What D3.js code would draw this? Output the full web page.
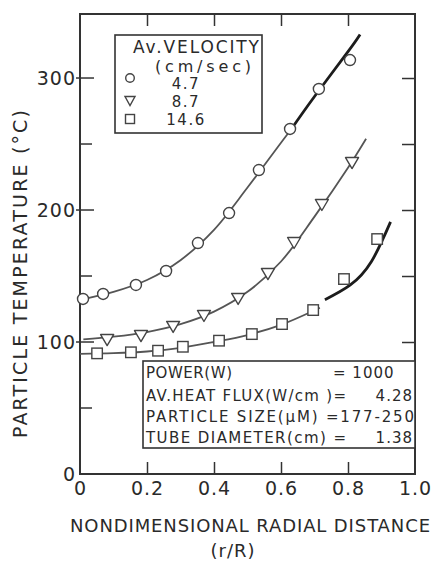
<!DOCTYPE html>
<html>
<head>
<meta charset="utf-8">
<script src="https://cdn.jsdelivr.net/npm/d3@7"></script>
<style>
body { margin: 0; background: #fff; }
text { font-family: "DejaVu Sans", sans-serif; fill: #2a2a2a; }
</style>
</head>
<body>
<div id="chart"></div>
<script>
// values
const xTicks = [0, 0.2, 0.4, 0.6, 0.8, 1.0];
const xTickLabels = ['0', '0.2', '0.4', '0.6', '0.8', '1.0'];
const yTicks = [0, 100, 200, 300];
const yMinorTicks = [50, 150, 250];
const velocities = ['4.7', '8.7', '14.6'];

// 4.7 cm/sec - circles
const circlePts = [[0.009, 132.6], [0.069, 136.4], [0.167, 143.2], [0.257, 153.8], [0.352, 175],
    [0.445, 197.7], [0.534, 230.3], [0.627, 261.4], [0.713, 291.7], [0.806, 313.6]];
const circleCurve = [[0, 132], [0.1, 138], [0.2, 147], [0.3, 162], [0.4, 185], [0.5, 217], [0.6, 251], [0.63, 261]];
const circleCurveBold = [[0.63, 261], [0.7, 286], [0.8, 320], [0.836, 333]];

// 8.7 cm/sec - triangles
const trianglePts = [[0.081, 101.5], [0.182, 104.5], [0.278, 111.4], [0.37, 119.7], [0.472, 132.6],
    [0.561, 151.5], [0.639, 175], [0.722, 203.8], [0.812, 235.6]];
const triangleCurve = [[0.01, 102], [0.1, 104], [0.2, 107.5], [0.3, 113.5], [0.4, 123], [0.5, 138],
    [0.6, 161], [0.7, 195], [0.8, 232], [0.854, 254]];

// 14.6 cm/sec - squares
const squarePts = [[0.051, 91.4], [0.152, 92.2], [0.233, 93.4], [0.307, 96.4], [0.415, 101],
    [0.513, 106], [0.603, 113.6], [0.696, 124.2], [0.788, 147.7], [0.887, 178]];
const squareCurve = [[0, 91], [0.1, 91.5], [0.2, 92.8], [0.3, 95.5], [0.4, 100], [0.5, 105.3],
    [0.6, 113], [0.7, 124], [0.716, 126]];
const squareCurveBold = [[0.731, 132], [0.806, 143], [0.87, 161], [0.927, 191]];

const infoLabels = ['POWER(W)', 'AV.HEAT FLUX(W/cm )=', 'PARTICLE  SIZE(\u03bcM) =177-250', 'TUBE DIAMETER(cm) ='];
const infoValues = ['= 1000', '4.28', '', '1.38'];

const width = 435, height = 566;
const svg = d3.select('#chart').append('svg')
    .attr('width', width)
    .attr('height', height);

const x = d3.scaleLinear().domain([0, 1]).range([80, 415]);
const y = d3.scaleLinear().domain([0, 348.5]).range([474, 14]);

const ink = '#333';

// frame
svg.append('rect')
    .attr('x', x(0)).attr('y', y(348.5))
    .attr('width', x(1) - x(0)).attr('height', y(0) - y(348.5))
    .attr('fill', 'none').attr('stroke', ink).attr('stroke-width', 2);

// bottom axis
const gx = svg.append('g')
    .attr('transform', `translate(0,${y(0)})`)
    .call(d3.axisBottom(x).tickValues(xTicks)
        .tickFormat((d, i) => xTickLabels[i])
        .tickSize(-12).tickPadding(8));
gx.select('.domain').remove();
gx.selectAll('.tick line').filter(d => d === 0 || d === 1)
    .remove();
gx.selectAll('.tick line').attr('stroke', ink).attr('stroke-width', 1.5);
gx.selectAll('text').attr('font-size', 19).attr('letter-spacing', 1)
    .attr('font-family', 'DejaVu Sans').attr('fill', '#2a2a2a');

// top ticks
const gxTop = svg.append('g')
    .attr('transform', `translate(0,${y(348.5)})`)
    .call(d3.axisTop(x).tickValues(xTicks.slice(1, 5)).tickFormat('').tickSize(-12));
gxTop.select('.domain').remove();
gxTop.selectAll('.tick line').attr('stroke', ink).attr('stroke-width', 1.5);

// right ticks
const gyRight = svg.append('g')
    .attr('transform', `translate(${x(1)},0)`)
    .call(d3.axisRight(y).tickValues([100, 150, 200, 250, 300]).tickFormat('').tickSize(-13));
gyRight.select('.domain').remove();
gyRight.selectAll('.tick line').attr('stroke', ink).attr('stroke-width', 1.5);

// left axis labels
const gy = svg.append('g')
    .attr('transform', `translate(${x(0)},0)`)
    .call(d3.axisLeft(y).tickValues(yTicks).tickSize(0).tickPadding(4));
gy.select('.domain').remove();
gy.selectAll('text').attr('font-size', 19).attr('letter-spacing', 1)
    .attr('font-family', 'DejaVu Sans').attr('fill', '#2a2a2a');

// left ticks cross the axis
svg.selectAll('line.ymajor')
    .data(yTicks.slice(1))
    .join('line')
    .attr('class', 'ymajor')
    .attr('x1', x(0) - 4).attr('x2', x(0) + 14)
    .attr('y1', d => y(d)).attr('y2', d => y(d))
    .attr('stroke', ink).attr('stroke-width', 1.5);
svg.selectAll('line.yminor')
    .data(yMinorTicks)
    .join('line')
    .attr('class', 'yminor')
    .attr('x1', x(0)).attr('x2', x(0) + 12)
    .attr('y1', d => y(d)).attr('y2', d => y(d))
    .attr('stroke', ink).attr('stroke-width', 1.5);

// fitted curves
const line = d3.line()
    .x(d => x(d[0]))
    .y(d => y(d[1]))
    .curve(d3.curveCatmullRom);
const smoothLine = d3.line()
    .x(d => x(d[0]))
    .y(d => y(d[1]))
    .curve(d3.curveNatural);

[circleCurve, triangleCurve, squareCurve].forEach(c => {
    svg.append('path').attr('d', line(c))
        .attr('fill', 'none').attr('stroke', '#555').attr('stroke-width', 1.8);
});
[circleCurveBold, squareCurveBold].forEach(c => {
    svg.append('path').attr('d', smoothLine(c))
        .attr('fill', 'none').attr('stroke', '#1c1c1c').attr('stroke-width', 2.8);
});

// markers
const mk = { fill: '#fff', stroke: '#444', width: 1.4 };

function drawCircles(g, pts, r) {
    g.selectAll(null).data(pts).join('circle')
        .attr('cx', d => x(d[0])).attr('cy', d => y(d[1])).attr('r', r)
        .attr('fill', mk.fill).attr('stroke', mk.stroke).attr('stroke-width', mk.width);
}
function trianglePath(cx, cy, w, h) {
    return `M${cx - w / 2},${cy - h / 2}L${cx + w / 2},${cy - h / 2}L${cx},${cy + h / 2}Z`;
}
function drawTriangles(g, pts, w, h) {
    g.selectAll(null).data(pts).join('path')
        .attr('d', d => trianglePath(x(d[0]), y(d[1]), w, h))
        .attr('fill', mk.fill).attr('stroke', mk.stroke).attr('stroke-width', mk.width)
        .attr('stroke-linejoin', 'round');
}
function drawSquares(g, pts, s) {
    g.selectAll(null).data(pts).join('rect')
        .attr('x', d => x(d[0]) - s / 2).attr('y', d => y(d[1]) - s / 2)
        .attr('width', s).attr('height', s)
        .attr('fill', mk.fill).attr('stroke', mk.stroke).attr('stroke-width', mk.width);
}

const marks = svg.append('g');
drawCircles(marks, circlePts, 5.5);
drawTriangles(marks, trianglePts, 13, 11);
drawSquares(marks, squarePts, 10.5);

// legend
svg.append('rect')
    .attr('x', 115).attr('y', 35).attr('width', 147).attr('height', 98)
    .attr('fill', '#fff').attr('stroke', ink).attr('stroke-width', 1.6);
svg.append('text').attr('x', 133).attr('y', 53)
    .attr('font-size', 17).attr('textLength', 126).attr('lengthAdjust', 'spacing')
    .text('Av.VELOCITY');
svg.append('text').attr('x', 155).attr('y', 72)
    .attr('font-size', 16).attr('textLength', 96).attr('lengthAdjust', 'spacing')
    .text('(cm/sec)');
svg.selectAll('text.vel').data(velocities).join('text')
    .attr('class', 'vel')
    .attr('x', 186).attr('y', (d, i) => [89, 107, 125][i])
    .attr('text-anchor', 'middle').attr('font-size', 15).attr('letter-spacing', 1.5)
    .text(d => d);
const legMarks = svg.append('g');
legMarks.append('circle').attr('cx', 130).attr('cy', 78).attr('r', 4.3)
    .attr('fill', '#fff').attr('stroke', mk.stroke).attr('stroke-width', 1.4);
legMarks.append('path').attr('d', trianglePath(130, 101, 10, 9))
    .attr('fill', '#fff').attr('stroke', mk.stroke).attr('stroke-width', 1.4);
legMarks.append('rect').attr('x', 125.5).attr('y', 114.5).attr('width', 9).attr('height', 9)
    .attr('fill', '#fff').attr('stroke', mk.stroke).attr('stroke-width', 1.4);

// info box
svg.append('rect')
    .attr('x', 143).attr('y', 361).attr('width', 415 - 143).attr('height', 87)
    .attr('fill', '#fff').attr('stroke', ink).attr('stroke-width', 1.6);
const infoY = [378, 401, 422, 443];
const infoLen = [86, 200, 268, 200];
svg.selectAll('text.info').data(infoLabels).join('text')
    .attr('class', 'info')
    .attr('x', 146).attr('y', (d, i) => infoY[i])
    .attr('font-size', 15).attr('textLength', (d, i) => infoLen[i]).attr('lengthAdjust', 'spacing')
    .text(d => d);
svg.selectAll('text.infov').data(infoValues).join('text')
    .attr('class', 'infov')
    .attr('x', (d, i) => i === 0 ? 333 : 413).attr('y', (d, i) => infoY[i])
    .attr('text-anchor', (d, i) => i === 0 ? 'start' : 'end')
    .attr('font-size', 15).attr('letter-spacing', 1)
    .text(d => d);

// axis titles
svg.append('text').attr('x', 70).attr('y', 532)
    .attr('font-size', 18).attr('textLength', 360).attr('lengthAdjust', 'spacing')
    .text('NONDIMENSIONAL RADIAL DISTANCE');
svg.append('text').attr('x', 233).attr('y', 557)
    .attr('text-anchor', 'middle').attr('font-size', 18).attr('letter-spacing', 1)
    .text('(r/R)');
svg.append('text')
    .attr('transform', 'translate(27,438) rotate(-90)')
    .attr('font-size', 19).attr('textLength', 328).attr('lengthAdjust', 'spacing')
    .text('PARTICLE  TEMPERATURE  (\u00b0C)');
</script>
</body>
</html>
